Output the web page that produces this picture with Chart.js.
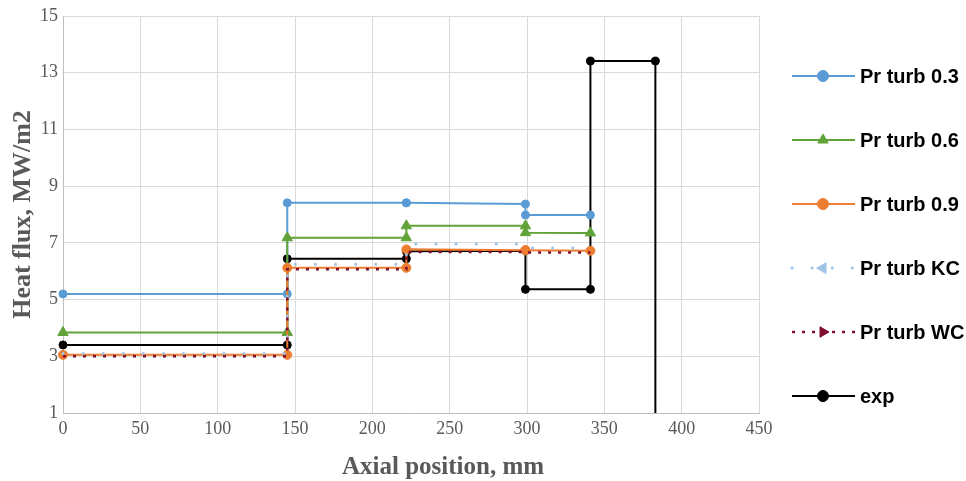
<!DOCTYPE html>
<html><head><meta charset="utf-8">
<script src="https://cdn.jsdelivr.net/npm/chart.js@4.4.1/dist/chart.umd.min.js"></script>
<style>html,body{margin:0;padding:0;background:#fff;} canvas{display:block;}</style>
</head><body>
<canvas id="c" width="966" height="481"></canvas>
<script>
// ---- data ----
const seriesNames = ['Pr turb 0.3', 'Pr turb 0.6', 'Pr turb 0.9', 'Pr turb KC', 'Pr turb WC', 'exp'];
const stepX    = [0, 145, 145, 222, 222, 299, 299, 341];
const prTurb03 = [5.2, 5.2, 8.41, 8.41, 8.41, 8.37, 7.98, 7.98];
const prTurb06 = [3.84, 3.84, 7.18, 7.18, 7.6, 7.6, 7.36, 7.35];
const prTurb09 = [3.05, 3.05, 6.12, 6.12, 6.77, 6.74, 6.74, 6.72];
const prTurbKC = [3.1, 3.1, 6.25, 6.25, 6.96, 6.96, 6.82, 6.82];
const prTurbWC = [3.0, 3.0, 6.07, 6.07, 6.68, 6.68, 6.66, 6.66];
const expX     = [0, 145, 145, 222, 222, 299, 299, 341, 341, 383, 383];
const expY     = [3.4, 3.4, 6.44, 6.44, 6.7, 6.72, 5.36, 5.36, 13.41, 13.41, 1];
const xTickLabels = [0, 50, 100, 150, 200, 250, 300, 350, 400, 450];
const yTickLabels = [1, 3, 5, 7, 9, 11, 13, 15];
const xTitle = 'Axial position, mm';
const yTitle = 'Heat flux, MW/m2';

const pts = (xs, ys) => xs.map((x, i) => ({x: x, y: ys[i]}));

const datasets = [
  {label: seriesNames[0], data: pts(stepX, prTurb03), borderColor: '#5B9BD5', backgroundColor: '#5B9BD5',
   pointBackgroundColor: '#5B9BD5', pointBorderColor: '#5B9BD5', pointStyle: 'circle', pointRadius: 4, order: 5,
   legendStyle: 'circle', legendRadius: 5.5, legendRotation: 0},
  {label: seriesNames[1], data: pts(stepX, prTurb06), borderColor: '#62A339', backgroundColor: '#62A339',
   pointBackgroundColor: '#62A339', pointBorderColor: '#62A339', pointStyle: 'triangle', pointRadius: 6, order: 4,
   legendStyle: 'triangle', legendRadius: 6, legendRotation: 0},
  {label: seriesNames[2], data: pts(stepX, prTurb09), borderColor: '#ED7D31', backgroundColor: '#ED7D31',
   pointBackgroundColor: '#ED7D31', pointBorderColor: '#ED7D31', pointStyle: 'circle', pointRadius: 4.5, order: 3,
   legendStyle: 'circle', legendRadius: 5.5, legendRotation: 0},
  {label: seriesNames[3], data: pts(stepX, prTurbKC), borderColor: '#9DC3E6', backgroundColor: '#9DC3E6',
   pointBackgroundColor: '#9DC3E6', pointBorderColor: '#9DC3E6', pointStyle: 'triangle', pointRadius: 0, order: 2,
   borderDash: [0.1, 20], borderCapStyle: 'round', borderWidth: 3,
   legendStyle: 'triangle', legendRadius: 6, legendRotation: -90},
  {label: seriesNames[4], data: pts(stepX, prTurbWC), borderColor: '#7F0F2E', backgroundColor: '#7F0F2E',
   pointBackgroundColor: '#7F0F2E', pointBorderColor: '#7F0F2E', pointStyle: 'triangle', pointRadius: 0, order: 1,
   borderDash: [3, 7], borderWidth: 2.5,
   legendStyle: 'triangle', legendRadius: 6, legendRotation: 90},
  {label: seriesNames[5], data: pts(expX, expY), borderColor: '#000000', backgroundColor: '#000000',
   pointBackgroundColor: '#000000', pointBorderColor: '#000000', pointStyle: 'circle',
   pointRadius: expY.map((v, i) => i === expY.length - 1 ? 0 : 4), order: 6,
   legendStyle: 'circle', legendRadius: 5.5, legendRotation: 0}
];
datasets.forEach(d => {
  d.showLine = true; d.fill = false; d.tension = 0; d.clip = false;
  if (d.borderWidth === undefined) d.borderWidth = 2;
  d.pointBorderWidth = 1; d.pointHoverRadius = 0;
});

const legendPlugin = {
  id: 'sideLegend',
  afterDraw(chart) {
    const ctx = chart.ctx;
    chart.data.datasets.forEach((ds, i) => {
      const y = 76 + i * 64;
      ctx.save();
      ctx.strokeStyle = ds.borderColor;
      ctx.lineWidth = ds.borderWidth;
      ctx.lineCap = ds.borderCapStyle || 'butt';
      ctx.setLineDash(ds.borderDash || []);
      ctx.beginPath(); ctx.moveTo(792, y); ctx.lineTo(855, y); ctx.stroke();
      ctx.setLineDash([]);
      ctx.fillStyle = ds.pointBackgroundColor;
      ctx.strokeStyle = ds.pointBorderColor;
      ctx.lineWidth = 1;
      Chart.helpers.drawPoint(ctx, {pointStyle: ds.legendStyle, rotation: ds.legendRotation,
        radius: ds.legendRadius, borderWidth: 1}, 823, y);
      ctx.fillStyle = '#000';
      ctx.font = 'bold 20px "Liberation Sans", Arial, sans-serif';
      ctx.textAlign = 'left';
      ctx.textBaseline = 'middle';
      ctx.fillText(ds.label, 860, y + 1);
      ctx.restore();
    });
    // x axis title
    const a = chart.chartArea;
    ctx.save();
    ctx.fillStyle = '#595959';
    ctx.font = 'bold 25px "Liberation Serif", "Times New Roman", serif';
    ctx.textAlign = 'center';
    ctx.textBaseline = 'alphabetic';
    ctx.fillText(xTitle, (a.left + a.right) / 2 + 32, 474);
    ctx.restore();
  }
};

const tickFont = {family: '"Liberation Serif", "Times New Roman", serif', size: 18};
new Chart(document.getElementById('c'), {
  type: 'scatter',
  data: {datasets: datasets},
  options: {
    responsive: false, animation: false, devicePixelRatio: 1,
    layout: {padding: {top: 16, right: 207, left: 0, bottom: 0}},
    plugins: {legend: {display: false}, tooltip: {enabled: false}},
    scales: {
      x: {
        type: 'linear', min: xTickLabels[0], max: xTickLabels[xTickLabels.length - 1],
        ticks: {stepSize: xTickLabels[1] - xTickLabels[0], color: '#595959', font: tickFont, padding: 5, maxRotation: 0},
        grid: {color: '#D9D9D9', drawTicks: false},
        border: {color: '#BFBFBF'},
        afterFit(s) { s.height = 68; s.paddingLeft = 0; s.paddingRight = 0; }
      },
      y: {
        type: 'linear', min: yTickLabels[0], max: yTickLabels[yTickLabels.length - 1],
        ticks: {stepSize: yTickLabels[1] - yTickLabels[0], color: '#595959', font: tickFont, padding: 5},
        grid: {color: '#D9D9D9', drawTicks: false},
        border: {color: '#BFBFBF'},
        title: {display: true, text: yTitle, color: '#595959',
          font: {family: '"Liberation Serif", "Times New Roman", serif', size: 26, weight: 'bold'},
          padding: {top: 8, bottom: 0}},
        afterFit(s) { s.width = 63; s.paddingTop = 0; s.paddingBottom = 0; }
      }
    }
  },
  plugins: [legendPlugin]
});
</script>
</body></html>
